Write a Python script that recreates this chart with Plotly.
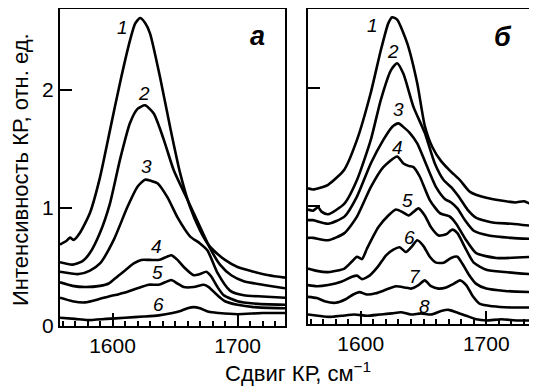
import plotly.graph_objects as go

# ---------------- Panel "а" (left) ----------------
a1_x = [1558, 1563, 1566, 1569, 1574, 1582, 1590, 1598, 1606, 1614, 1618, 1622, 1626, 1630, 1638, 1646, 1654, 1662, 1670, 1676, 1681, 1690, 1700, 1713, 1725, 1738]
a1_y = [0.69, 0.72, 0.75, 0.73, 0.79, 0.96, 1.26, 1.66, 2.06, 2.42, 2.56, 2.61, 2.57, 2.48, 2.11, 1.69, 1.30, 1.01, 0.81, 0.70, 0.64, 0.56, 0.50, 0.46, 0.43, 0.41]

a2_x = [1558, 1568, 1576, 1582, 1590, 1598, 1606, 1614, 1620, 1626, 1633, 1641, 1649, 1660, 1670, 1678, 1686, 1695, 1705, 1720, 1738]
a2_y = [0.54, 0.52, 0.55, 0.62, 0.79, 1.04, 1.41, 1.72, 1.84, 1.87, 1.80, 1.58, 1.32, 1.07, 0.84, 0.66, 0.52, 0.43, 0.38, 0.35, 0.32]

a3_x = [1558, 1573, 1582, 1590, 1601, 1612, 1620, 1626, 1631, 1636, 1644, 1652, 1662, 1670, 1676, 1684, 1694, 1705, 1720, 1738]
a3_y = [0.46, 0.44, 0.47, 0.53, 0.73, 1.01, 1.18, 1.24, 1.23, 1.21, 1.09, 0.92, 0.76, 0.70, 0.64, 0.45, 0.30, 0.26, 0.25, 0.24]

a4_x = [1558, 1568, 1578, 1590, 1597, 1604, 1610, 1617, 1623, 1630, 1637, 1642, 1647, 1652, 1657, 1665, 1670, 1675, 1679, 1684, 1689, 1700, 1713, 1738]
a4_y = [0.37, 0.34, 0.33, 0.34, 0.36, 0.42, 0.47, 0.53, 0.56, 0.56, 0.56, 0.58, 0.60, 0.56, 0.50, 0.43, 0.44, 0.46, 0.42, 0.33, 0.26, 0.21, 0.19, 0.18]

a5_x = [1558, 1568, 1578, 1590, 1597, 1605, 1612, 1620, 1629, 1637, 1642, 1647, 1652, 1657, 1665, 1673, 1677, 1684, 1690, 1700, 1713, 1738]
a5_y = [0.24, 0.21, 0.20, 0.23, 0.25, 0.27, 0.29, 0.32, 0.35, 0.35, 0.37, 0.39, 0.36, 0.33, 0.33, 0.35, 0.33, 0.26, 0.21, 0.18, 0.16, 0.15]

a6_x = [1558, 1570, 1580, 1595, 1610, 1625, 1637, 1648, 1655, 1660, 1665, 1670, 1677, 1685, 1700, 1720, 1738]
a6_y = [0.07, 0.06, 0.05, 0.06, 0.07, 0.08, 0.09, 0.11, 0.13, 0.15, 0.16, 0.15, 0.12, 0.11, 0.10, 0.11, 0.11]

# ---------------- Panel "б" (right) ----------------
b1_x = [1558, 1562, 1574, 1587, 1597, 1608, 1616, 1622, 1625, 1629, 1637, 1645, 1651, 1657, 1664, 1671, 1679, 1687, 1700, 1723, 1730, 1738]
b1_y = [1.15, 1.14, 1.18, 1.31, 1.56, 1.96, 2.32, 2.55, 2.60, 2.58, 2.38, 2.04, 1.68, 1.50, 1.38, 1.30, 1.22, 1.12, 1.07, 1.03, 1.04, 1.00]

b2_x = [1558, 1562, 1566, 1569, 1574, 1587, 1597, 1608, 1616, 1624, 1629, 1634, 1642, 1651, 1659, 1666, 1672, 1678, 1685, 1692, 1705, 1720, 1738]
b2_y = [0.97, 0.96, 0.99, 0.95, 0.93, 1.02, 1.22, 1.56, 1.90, 2.15, 2.21, 2.12, 1.84, 1.62, 1.36, 1.22, 1.16, 1.08, 0.97, 0.90, 0.86, 0.85, 0.83]

b3_x = [1558, 1562, 1574, 1587, 1597, 1608, 1618, 1625, 1630, 1635, 1639, 1645, 1653, 1660, 1667, 1672, 1677, 1683, 1690, 1702, 1720, 1738]
b3_y = [0.88, 0.88, 0.85, 0.91, 1.08, 1.36, 1.56, 1.67, 1.70, 1.66, 1.62, 1.53, 1.33, 1.16, 1.06, 1.03, 0.98, 0.88, 0.79, 0.75, 0.73, 0.72]

b4_x = [1558, 1562, 1574, 1587, 1597, 1608, 1618, 1629, 1634, 1638, 1642, 1647, 1655, 1663, 1671, 1676, 1684, 1692, 1708, 1738]
b4_y = [0.73, 0.73, 0.71, 0.77, 0.91, 1.16, 1.33, 1.42, 1.36, 1.34, 1.33, 1.25, 1.05, 0.94, 0.91, 0.85, 0.71, 0.60, 0.56, 0.57]

b5_x = [1558, 1565, 1574, 1587, 1593, 1597, 1601, 1605, 1614, 1622, 1628, 1633, 1638, 1642, 1646, 1651, 1656, 1662, 1668, 1673, 1677, 1683, 1690, 1700, 1715, 1738]
b5_y = [0.47, 0.45, 0.44, 0.47, 0.53, 0.57, 0.55, 0.64, 0.82, 0.92, 0.97, 0.95, 0.92, 0.95, 0.98, 0.92, 0.82, 0.75, 0.76, 0.80, 0.77, 0.65, 0.52, 0.46, 0.44, 0.42]

b6_x = [1558, 1565, 1574, 1585, 1593, 1597, 1601, 1607, 1614, 1620, 1626, 1631, 1636, 1641, 1645, 1650, 1655, 1660, 1666, 1672, 1677, 1681, 1686, 1692, 1700, 1715, 1738]
b6_y = [0.33, 0.32, 0.33, 0.36, 0.40, 0.41, 0.38, 0.41, 0.49, 0.58, 0.63, 0.65, 0.61, 0.66, 0.71, 0.66, 0.57, 0.52, 0.52, 0.56, 0.57, 0.51, 0.42, 0.34, 0.30, 0.28, 0.27]

b7_x = [1558, 1565, 1572, 1580, 1588, 1594, 1599, 1605, 1612, 1620, 1628, 1635, 1640, 1646, 1651, 1656, 1662, 1668, 1674, 1679, 1684, 1689, 1695, 1705, 1720, 1738]
b7_y = [0.23, 0.22, 0.19, 0.18, 0.21, 0.25, 0.27, 0.25, 0.26, 0.29, 0.32, 0.31, 0.30, 0.33, 0.37, 0.32, 0.30, 0.31, 0.34, 0.37, 0.33, 0.24, 0.17, 0.15, 0.14, 0.14]

b8_x = [1558, 1566, 1575, 1585, 1595, 1605, 1615, 1625, 1632, 1640, 1648, 1656, 1664, 1670, 1676, 1684, 1692, 1700, 1712, 1725, 1738]
b8_y = [0.08, 0.07, 0.06, 0.07, 0.08, 0.07, 0.08, 0.09, 0.10, 0.08, 0.09, 0.08, 0.11, 0.12, 0.10, 0.07, 0.04, 0.03, 0.04, 0.03, 0.03]

# curve labels: (text, x, y)
a_labels = [("1", 1608, 2.53), ("2", 1625, 1.97), ("3", 1627, 1.35),
            ("4", 1635, 0.67), ("5", 1636, 0.45), ("6", 1637, 0.18)]
b_labels = [("1", 1609, 2.53), ("2", 1626, 2.31), ("3", 1630, 1.82), ("4", 1629, 1.50),
            ("5", 1637, 1.05), ("6", 1639, 0.73), ("7", 1643, 0.40), ("8", 1651, 0.15)]

x_range = [1558, 1738]
x_ticks = [1600, 1700]
y_ticks = [0, 1, 2]
y_ticklabels = ["0", "1", "2"]

# the page body has an 8px margin; lay out in window pixels minus that offset
OFF = 8
WIN_W, WIN_H = 537, 392
W, H = WIN_W - OFF, WIN_H - OFF
FONT = "Liberation Sans, Arial, sans-serif"
PX_PER_UNIT = 118.0

def px_x(p):
    return (p - OFF) / W

def px_y(p):
    return (WIN_H - p) / H

TOP = 9
A_BOTTOM, B_BOTTOM = 326, 324

fig = go.Figure()
line_style = dict(color="black", width=2.6, shape="spline", smoothing=0.6)
for xs, ys in [(a1_x, a1_y), (a2_x, a2_y), (a3_x, a3_y), (a4_x, a4_y), (a5_x, a5_y), (a6_x, a6_y)]:
    fig.add_trace(go.Scatter(x=xs, y=ys, mode="lines", line=line_style, xaxis="x", yaxis="y",
                             showlegend=False, hoverinfo="skip"))
for xs, ys in [(b1_x, b1_y), (b2_x, b2_y), (b3_x, b3_y), (b4_x, b4_y), (b5_x, b5_y),
               (b6_x, b6_y), (b7_x, b7_y), (b8_x, b8_y)]:
    fig.add_trace(go.Scatter(x=xs, y=ys, mode="lines", line=line_style, xaxis="x2", yaxis="y2",
                             showlegend=False, hoverinfo="skip"))

def xaxis_cfg(domain, anchor):
    return dict(domain=domain, anchor=anchor, range=x_range, tickvals=x_ticks, automargin=False,
                ticks="inside", ticklen=13, tickwidth=1.5, tickcolor="black",
                minor=dict(ticks="inside", dtick=10, ticklen=5, tickwidth=1.5, tickcolor="black", showgrid=False),
                showline=True, linecolor="black", linewidth=2, mirror=True,
                showgrid=False, zeroline=False,
                tickfont=dict(family=FONT, size=21, color="black"))

def yaxis_cfg(bottom, anchor, labels):
    return dict(domain=[px_y(bottom), px_y(TOP)], anchor=anchor,
                range=[0, (bottom - TOP) / PX_PER_UNIT], tickvals=y_ticks, ticktext=y_ticklabels,
                automargin=False,
                showticklabels=labels, ticks="inside", ticklen=12, tickwidth=1.5, tickcolor="black",
                showline=True, linecolor="black", linewidth=2, mirror=True,
                showgrid=False, zeroline=False,
                tickfont=dict(family=FONT, size=21, color="black"))

fig.update_layout(
    width=W, height=H,
    margin=dict(l=0, r=0, t=0, b=0, pad=0),
    paper_bgcolor="white", plot_bgcolor="white",
    xaxis=xaxis_cfg([px_x(60), px_x(285)], "y"),
    yaxis=yaxis_cfg(A_BOTTOM, "x", True),
    xaxis2=xaxis_cfg([px_x(308), px_x(534)], "y2"),
    yaxis2=yaxis_cfg(B_BOTTOM, "x2", False),
)

annotations = []
for t, x, y in a_labels:
    annotations.append(dict(text="<i>%s</i>" % t, x=x, y=y, xref="x", yref="y", showarrow=False,
                            font=dict(family=FONT, size=19, color="black")))
for t, x, y in b_labels:
    annotations.append(dict(text="<i>%s</i>" % t, x=x, y=y, xref="x2", yref="y2", showarrow=False,
                            font=dict(family=FONT, size=19, color="black")))
annotations.append(dict(text="<b><i>а</i></b>", x=1716, y=2.46, xref="x", yref="y", showarrow=False,
                        font=dict(family=FONT, size=27, color="black")))
annotations.append(dict(text="<b><i>б</i></b>", x=1713, y=2.43, xref="x2", yref="y2", showarrow=False,
                        font=dict(family=FONT, size=27, color="black")))
annotations.append(dict(text="Сдвиг КР, см<sup>−1</sup>", x=px_x(298), y=px_y(372), xref="paper", yref="paper",
                        xanchor="center", yanchor="middle",
                        showarrow=False, font=dict(family=FONT, size=22, color="black")))
annotations.append(dict(text="Интенсивность КР, отн. ед.", x=px_x(20), y=px_y(170), xref="paper", yref="paper",
                        xanchor="center", yanchor="middle",
                        textangle=-90, showarrow=False, font=dict(family=FONT, size=22, color="black")))
fig.update_layout(annotations=annotations)

fig.write_html("out.html")
